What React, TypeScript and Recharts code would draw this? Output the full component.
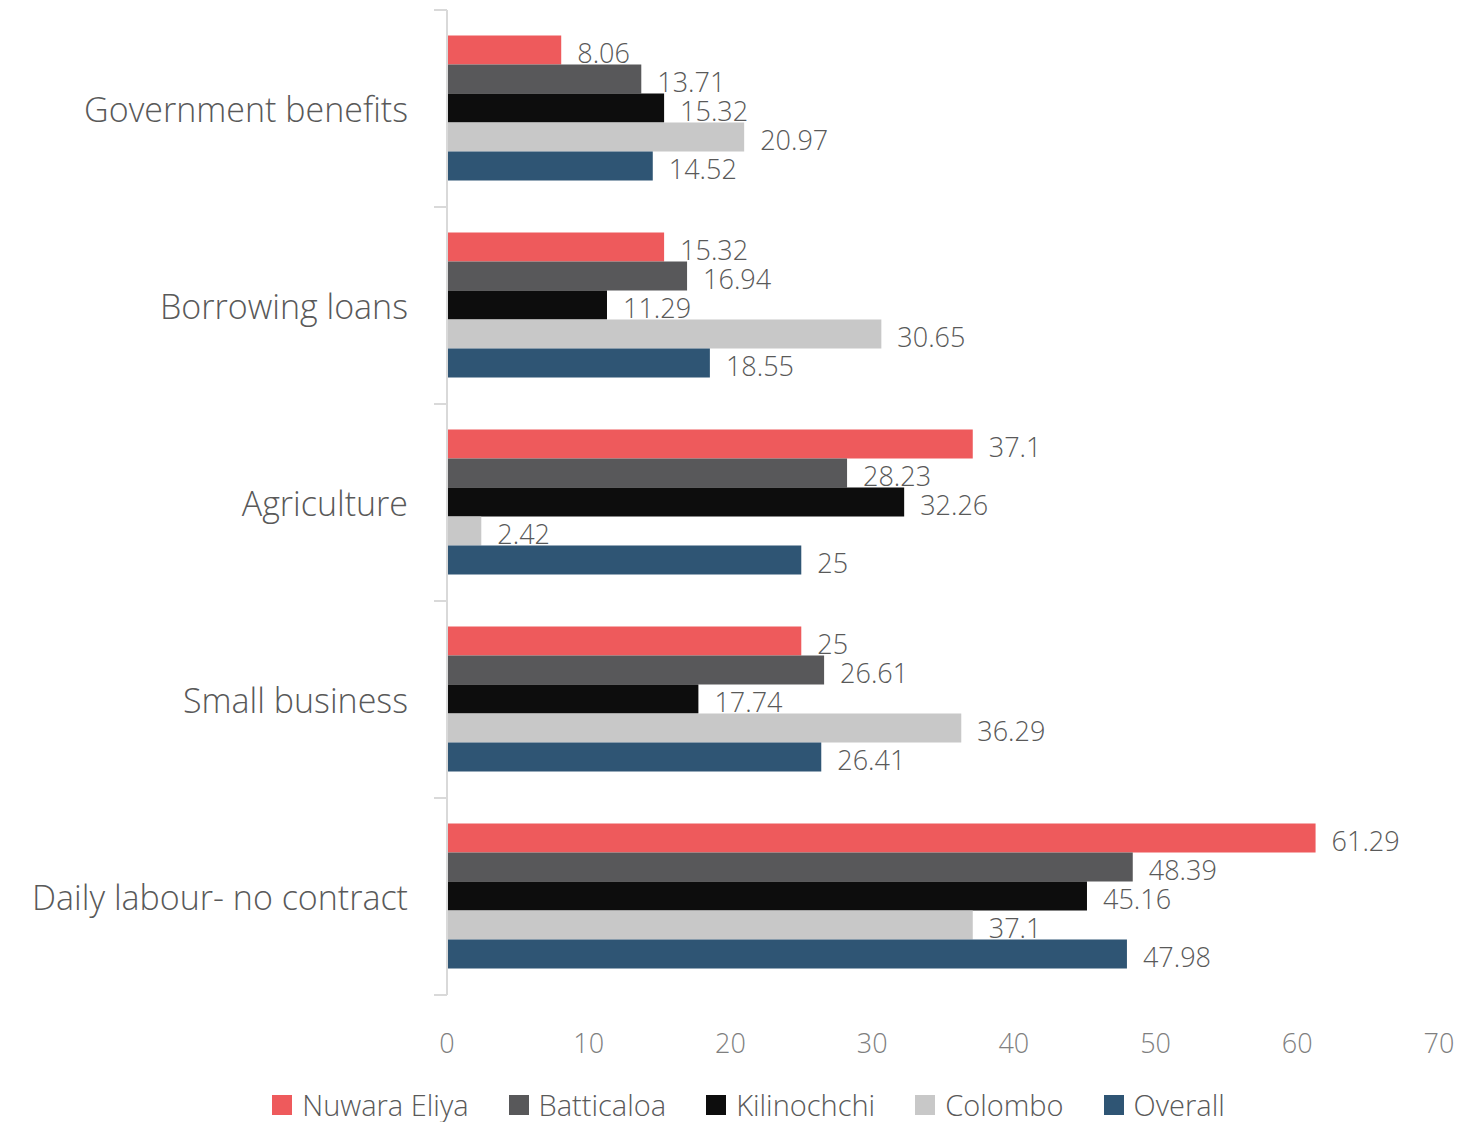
import React from "react";
import { BarChart, Bar, XAxis, YAxis, LabelList } from "recharts";

const categories = [
  "Government benefits",
  "Borrowing loans",
  "Agriculture",
  "Small business",
  "Daily labour- no contract",
];
const nuwaraEliya = [8.06, 15.32, 37.1, 25, 61.29];
const batticaloa = [13.71, 16.94, 28.23, 26.61, 48.39];
const kilinochchi = [15.32, 11.29, 32.26, 17.74, 45.16];
const colombo = [20.97, 30.65, 2.42, 36.29, 37.1];
const overall = [14.52, 18.55, 25, 26.41, 47.98];
const xTicks = [0, 10, 20, 30, 40, 50, 60, 70];

const series = [
  { key: "nuwaraEliya", name: "Nuwara Eliya", color: "#EE5A5C" },
  { key: "batticaloa", name: "Batticaloa", color: "#58585A" },
  { key: "kilinochchi", name: "Kilinochchi", color: "#0D0D0D" },
  { key: "colombo", name: "Colombo", color: "#C8C8C8" },
  { key: "overall", name: "Overall", color: "#2F5574" },
];

const data = categories.map((c, i) => ({
  name: c,
  nuwaraEliya: nuwaraEliya[i],
  batticaloa: batticaloa[i],
  kilinochchi: kilinochchi[i],
  colombo: colombo[i],
  overall: overall[i],
}));

const FONT = "'Open Sans', sans-serif";
const LABEL_GAP = 39;

// category label plus a tick mark on each band edge
function CategoryTick(props: any) {
  const { x, y, payload, index, visibleTicksCount } = props;
  const half = payload.offset || 0;
  const axisX = x + LABEL_GAP;
  return (
    <g>
      <line x1={axisX - 13} x2={axisX} y1={y - half} y2={y - half} stroke="#D9D9D9" strokeWidth={2} />
      {index === visibleTicksCount - 1 && (
        <line x1={axisX - 13} x2={axisX} y1={y + half} y2={y + half} stroke="#D9D9D9" strokeWidth={2} />
      )}
      <text
        x={x}
        y={y}
        textAnchor="end"
        dominantBaseline="central"
        fill="#595959"
        fontSize={34}
        fontFamily={FONT}
        fontWeight={300}
      >
        {payload.value}
      </text>
    </g>
  );
}

function LegendRow() {
  return (
    <div
      style={{
        display: "flex",
        justifyContent: "center",
        alignItems: "center",
        gap: 40,
        height: 34,
        lineHeight: "34px",
        marginTop: 10,
        fontFamily: FONT,
        fontWeight: 300,
        fontSize: 29,
        color: "#595959",
        paddingLeft: 14,
      }}
    >
      {series.map((s) => (
        <div key={s.key} style={{ display: "flex", alignItems: "center" }}>
          <span style={{ width: 20, height: 20, background: s.color, marginRight: 10 }} />
          <span>{s.name}</span>
        </div>
      ))}
    </div>
  );
}

export default function App() {
  return (
    <div style={{ width: 1467, fontFamily: FONT, fontWeight: 300 }}>
      <BarChart
        width={1467}
        height={1070}
        data={data}
        layout="vertical"
        margin={{ top: 2, right: 36, bottom: 0, left: 0 }}
        barCategoryGap="13%"
        barGap={0}
      >
        <XAxis
          type="number"
          domain={[0, 70]}
          ticks={xTicks}
          axisLine={false}
          tickLine={false}
          tickSize={0}
          tickMargin={39}
          height={83}
          tick={{ fill: "#7F7F7F", fontSize: 27, fontFamily: FONT, fontWeight: 300 }}
        />
        <YAxis
          type="category"
          dataKey="name"
          width={439}
          axisLine={{ stroke: "#D9D9D9", strokeWidth: 2 }}
          tickLine={false}
          tickSize={0}
          tickMargin={LABEL_GAP}
          tick={<CategoryTick />}
        />
        {series.map((s) => (
          <Bar key={s.key} dataKey={s.key} name={s.name} fill={s.color} isAnimationActive={false}>
            <LabelList
              dataKey={s.key}
              position="right"
              offset={16}
              fill="#595959"
              fontSize={27}
              fontFamily={FONT}
              fontWeight={300}
              dy={3}
            />
          </Bar>
        ))}
      </BarChart>
      <LegendRow />
    </div>
  );
}
